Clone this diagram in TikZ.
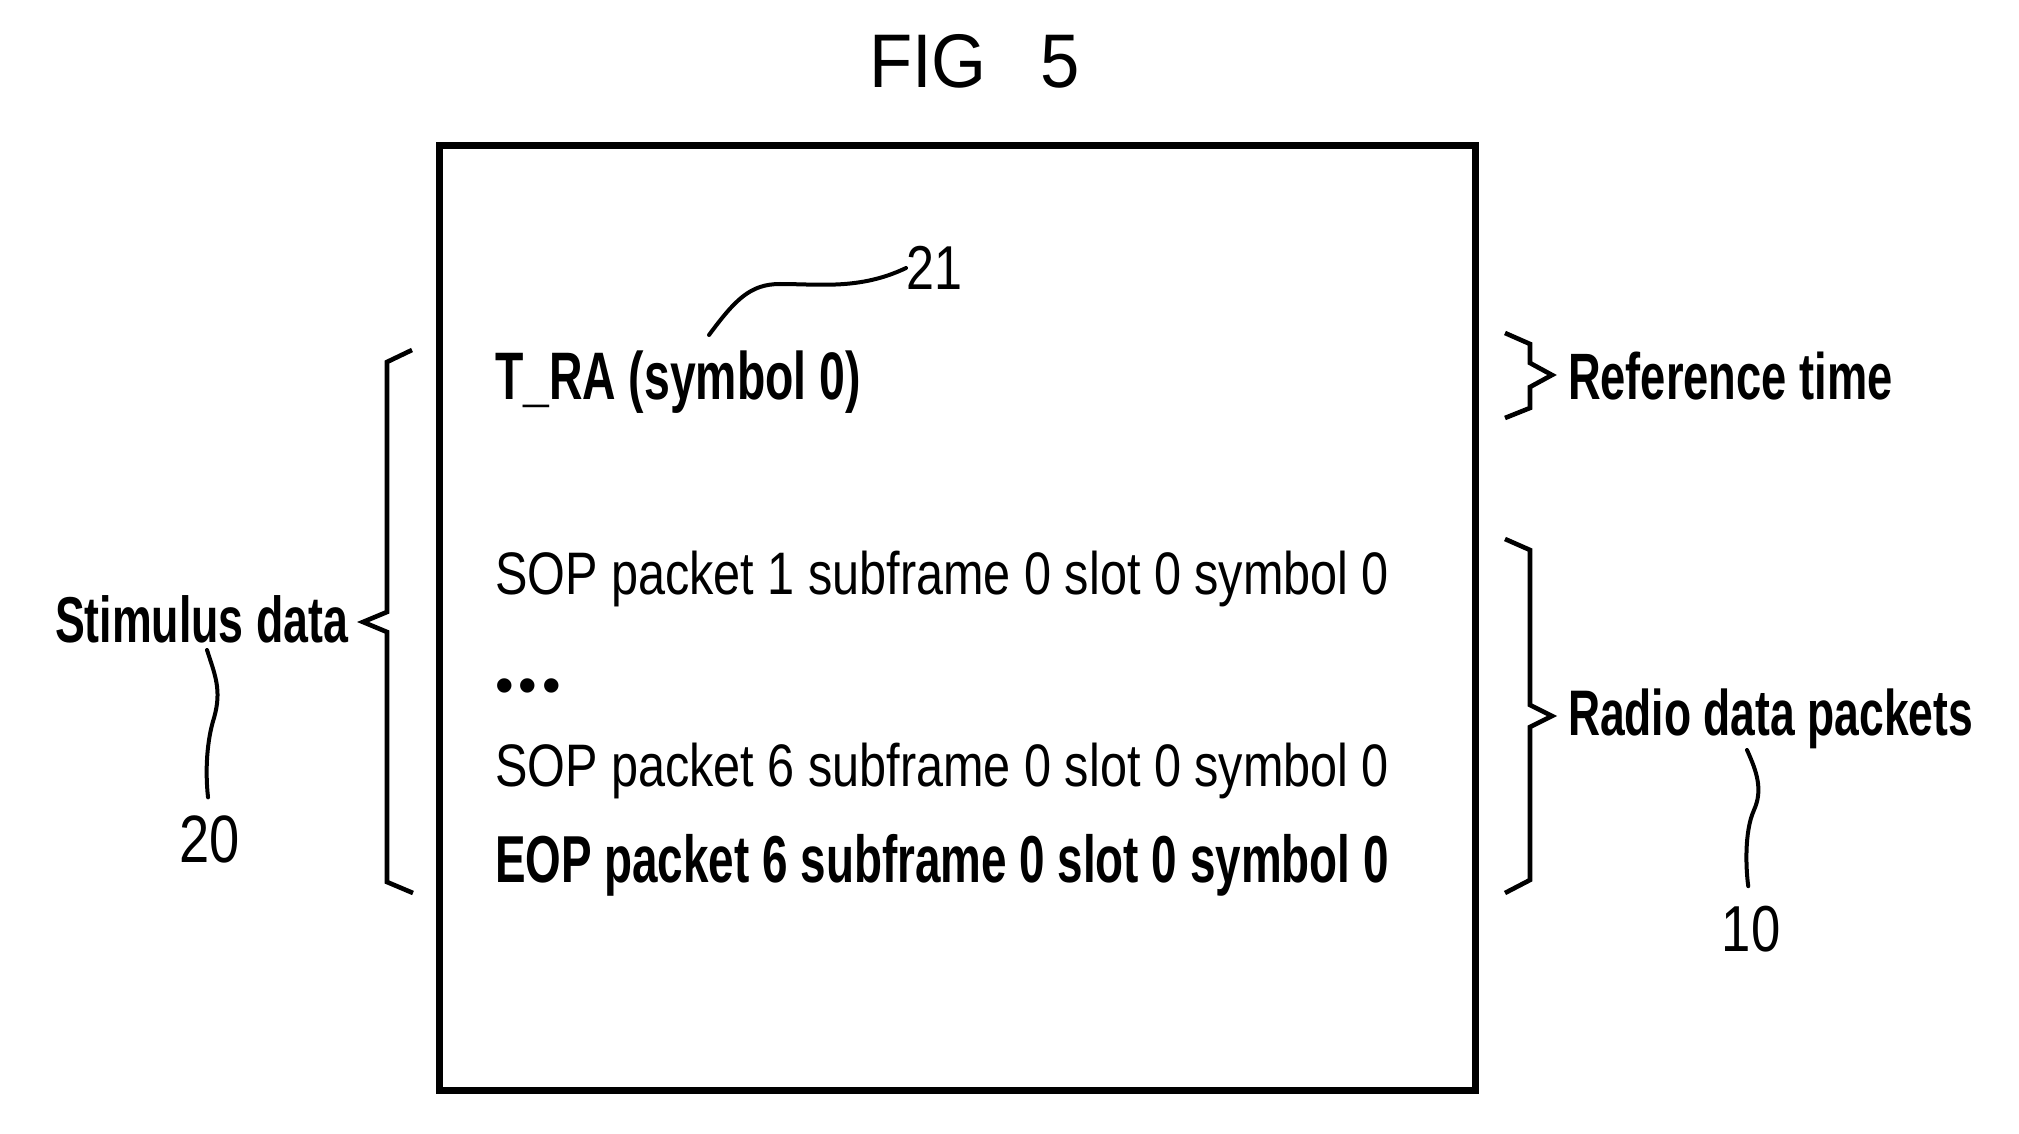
\documentclass[tikz,border=0pt]{standalone}
\usepackage{fontspec}
\setmainfont{Liberation Sans}[FakeStretch=0.81,BoldFeatures={FakeStretch=0.69}]
\newfontfamily\dotfont{Liberation Sans}
\newfontfamily\titlefont{Liberation Sans}[FakeStretch=0.93]
\begin{document}
\begin{tikzpicture}[x=0.5pt,y=-0.5pt,
  txt/.style={inner sep=0pt, outer sep=0pt, anchor=base west},
  reg/.style={font=\fontsize{30pt}{36pt}\selectfont},
  num/.style={inner sep=0pt, outer sep=0pt},
  frame/.style={line width=3.5pt},
  brace/.style={line width=2.3pt, line join=miter},
  lead/.style={line width=2pt, line cap=round}]
\useasboundingbox (0,0) rectangle (2019,1134);
% title
\node[txt, font=\titlefont\fontsize{38pt}{44pt}\selectfont] (title) at (869,88) {FIG\hspace{27pt}5};
% frame
\draw[frame] (439.5,145.5) rectangle (1475.5,1090);
% texts inside
\node[txt, font=\fontsize{33.6pt}{40pt}\selectfont\bfseries] (tra) at (495,400) {T\_RA (symbol 0)};
\node[txt, reg] (sop1) at (495,594) {SOP packet 1 subframe 0 slot 0 symbol 0};
\node[inner sep=0pt, outer sep=0pt, anchor=base, font=\dotfont\fontsize{26.5pt}{30pt}\selectfont] (dots) at (528,703) {•\hspace{2.5pt}•\hspace{2.5pt}•};
\node[txt, reg] (sop6) at (495,786) {SOP packet 6 subframe 0 slot 0 symbol 0};
\node[txt, font=\fontsize{33.2pt}{40pt}\selectfont\bfseries] (eop) at (495,882) {EOP packet 6 subframe 0 slot 0 symbol 0};
% outside labels
\node[txt, font=\fontsize{32.4pt}{38pt}\selectfont\bfseries] (stim) at (55,642) {Stimulus data};
\node[txt, font=\fontsize{32.8pt}{38pt}\selectfont\bfseries] (reft) at (1568,400) {Reference time};
\node[txt, font=\fontsize{32.2pt}{38pt}\selectfont\bfseries] (radio) at (1568,735) {Radio data packets};
\node[num, font=\fontsize{31pt}{36pt}\selectfont] (n21) at (934,268) {21};
\node[num, font=\fontsize{33.5pt}{38pt}\selectfont] (n20) at (210,839) {20};
\node[num, font=\fontsize{32.5pt}{38pt}\selectfont] (n10) at (1751,929) {10};
% braces
\draw[brace] (412,350) -- (387,362) -- (387,612) -- (363,622) -- (387,632) -- (387,882) -- (413,893);
\draw[brace] (1505,333) -- (1530,344) -- (1530,363) -- (1552,375) -- (1530,387) -- (1530,408) -- (1505,418);
\draw[brace] (1505,539) -- (1530,550) -- (1530,705) -- (1552,716) -- (1530,727) -- (1530,880) -- (1505,893);
% leaders
\coordinate (c21) at (709,335);
\coordinate (c20) at (207,650);
\coordinate (c10) at (1747,750);
\draw[lead] (c21) .. controls (735,300) and (750,284) .. (780,284) .. controls (820,284) and (860,290) .. (n21.west);
\draw[lead, shorten >=9pt] (c20) .. controls (215,675) and (222,690) .. (214,718) .. controls (207,740) and (205,770) .. (n20.north);
\draw[lead, shorten >=10pt] (c10) .. controls (1757,772) and (1763,790) .. (1754,810) .. controls (1744,832) and (1746,870) .. (n10.north);
\end{tikzpicture}
\end{document}
